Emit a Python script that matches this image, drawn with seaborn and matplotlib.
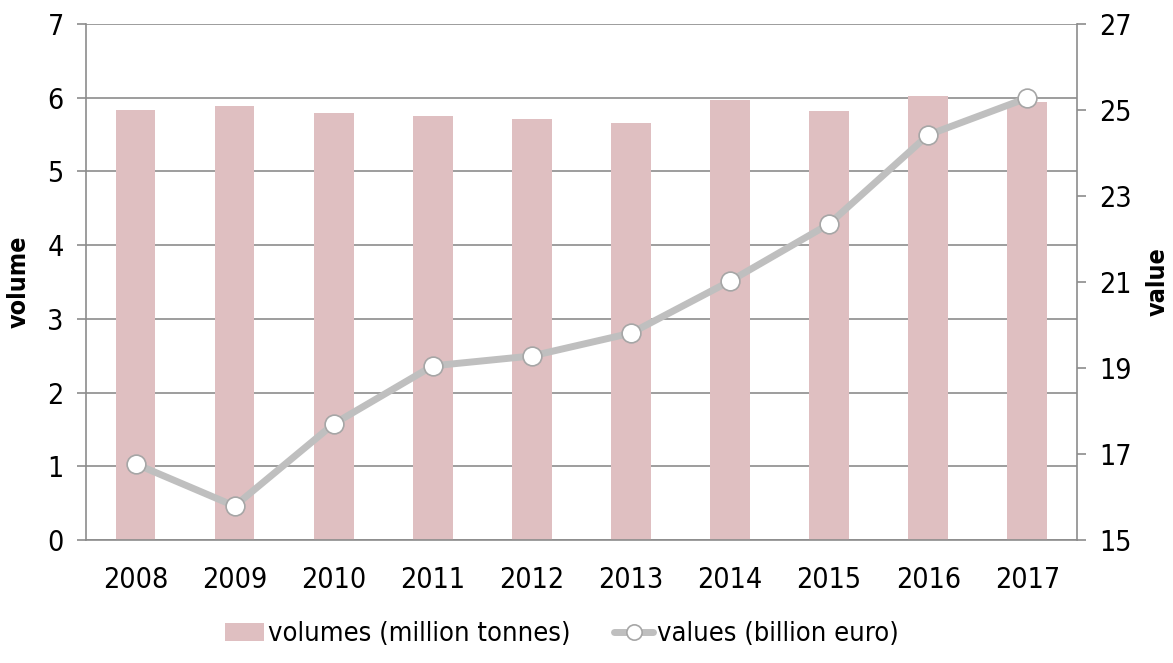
import numpy as np
import pandas as pd
import matplotlib
matplotlib.use("Agg")
import matplotlib.pyplot as plt
from matplotlib import font_manager as fm
from matplotlib.ticker import FixedLocator, MultipleLocator
from matplotlib.patches import Patch
from matplotlib.lines import Line2D
import seaborn as sns

years = ["2008", "2009", "2010", "2011", "2012", "2013", "2014", "2015", "2016", "2017"]
volumes = [5.83, 5.89, 5.79, 5.75, 5.71, 5.66, 5.97, 5.82, 6.02, 5.94]
values = [16.77, 15.79, 17.70, 19.05, 19.28, 19.81, 21.02, 22.35, 24.42, 25.28]
value_ticks = [15, 17, 19, 21, 23, 25, 27]

sns.set_theme(style="white")

# Prefer a narrow face for the labels when one is installed
installed = {f.name for f in fm.fontManager.ttflist}
condensed = any(f.name == "DejaVu Sans" and str(f.stretch) in ("condensed", "semi-condensed")
                for f in fm.fontManager.ttflist)
if "Liberation Sans Narrow" in installed:
    plt.rcParams["font.family"] = ["Liberation Sans Narrow", "DejaVu Sans"]
    FS, LEG, LFS = 22, 21, 19
elif condensed:
    plt.rcParams["font.family"] = ["DejaVu Sans"]
    plt.rcParams["font.stretch"] = "condensed"
    FS, LEG, LFS = 20.5, 19.5, 18
else:
    plt.rcParams["font.family"] = ["DejaVu Sans"]
    FS, LEG, LFS = 18.5, 17.5, 17

BAR = "#dfbfc1"
LINE = "#bfbfbf"
AXC = "#8c8c8c"

df = pd.DataFrame({"year": years, "volume": volumes, "value": values})

fig = plt.figure(figsize=(11.73, 6.63), dpi=100)
ax = fig.add_axes([0.0733, 0.1855, 0.918 - 0.0733, 0.9638 - 0.1855])

sns.barplot(data=df, x="year", y="volume", color=BAR, width=0.4,
            saturation=1, ax=ax, zorder=2, edgecolor="none")
ax.set_xlim(-0.5, 9.5)
ax.set_ylim(0, 7)
ax.yaxis.set_major_locator(MultipleLocator(1))
ax.grid(axis="y", color=AXC, linewidth=1.2, zorder=0)
ax.set_axisbelow(True)
for s in ["top", "right"]:
    ax.spines[s].set_visible(False)
for s in ["left", "bottom"]:
    ax.spines[s].set_color(AXC)
    ax.spines[s].set_linewidth(1.2)
ax.xaxis.set_minor_locator(FixedLocator(np.arange(-0.5, 10, 1)))
ax.tick_params(axis="x", which="major", length=0, labelsize=FS, pad=19, colors="black")
ax.tick_params(axis="x", which="minor", length=7.5, width=1.2, color=AXC, direction="out")
ax.tick_params(axis="y", length=6.5, width=1.2, color=AXC, direction="out",
               labelsize=FS, labelcolor="black", pad=9.5)
ax.set_xlabel("")
ax.set_ylabel("volume", fontsize=LFS, fontweight="bold", color="black")
ax.yaxis.label.set_verticalalignment("center")
ax.yaxis.set_label_coords(-0.0676, 0.5)

ax2 = ax.twinx()
sns.lineplot(x=np.arange(len(years)), y=values, ax=ax2, color=LINE, linewidth=5,
             marker="o", markersize=13.5, markerfacecolor="white",
             markeredgecolor="#a6a6a6", markeredgewidth=1.2, zorder=3)
ax2.set_ylim(15, 27)
ax2.yaxis.set_major_locator(FixedLocator(value_ticks))
for s in ["top", "left", "bottom"]:
    ax2.spines[s].set_visible(False)
ax2.spines["right"].set_color(AXC)
ax2.spines["right"].set_linewidth(1.2)
ax2.tick_params(axis="y", length=6.5, width=1.2, color=AXC, direction="out",
                labelsize=FS, labelcolor="black", pad=9.5)
ax2.set_ylabel("value", fontsize=LFS, fontweight="bold", color="black")
ax2.yaxis.label.set_verticalalignment("center")
ax2.yaxis.set_label_coords(1.0818, 0.5)
ax2.set_xlim(-0.5, 9.5)

handles = [
    Patch(facecolor=BAR, edgecolor="none"),
    Line2D([0], [0], color=LINE, linewidth=5, marker="o", markersize=11,
           markerfacecolor="white", markeredgecolor="#a6a6a6", markeredgewidth=1.2),
]
fig.legend(handles, ["volumes (million tonnes)", "values (billion euro)"],
           loc="center", bbox_to_anchor=(0.479, 0.043), ncol=2, frameon=False,
           fontsize=LEG, handlelength=1.45, handletextpad=0.15, columnspacing=1.6,
           labelcolor="black")

fig.savefig("out.png", dpi=100)
